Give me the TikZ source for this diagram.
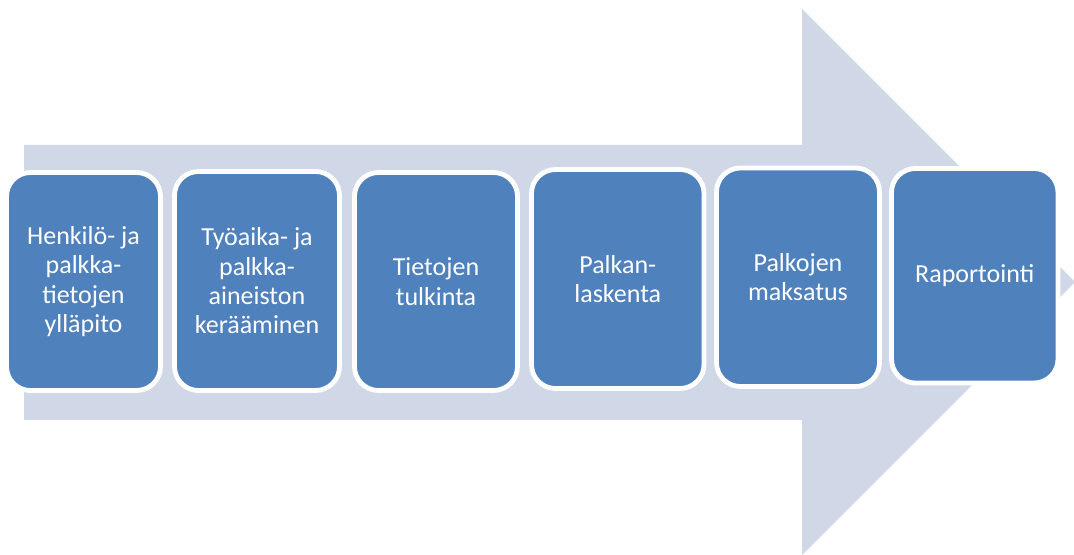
\documentclass[tikz,border=0pt]{standalone}
\usepackage{fontspec}
\setmainfont{Carlito}
\usepackage{tikz}
\usetikzlibrary{positioning}

\definecolor{arrowgray}{HTML}{D0D8E8}
\definecolor{boxblue}{HTML}{4F81BD}

\tikzset{
  stepbox/.style={draw=white, line width=3.6pt, fill=boxblue, rounded corners=18pt,
    text=white, align=center, inner sep=0pt,
    font=\fontsize{19.5}{22}\selectfont},
}

\begin{document}
\begin{tikzpicture}[x=0.75pt,y=-0.75pt]
\useasboundingbox (0,0) rectangle (1074,555);

% big arrow in the background
\fill[arrowgray] (24,145) -- (802,145) -- (802,9) -- (1075,282)
  -- (802,555) -- (802,420) -- (24,420) -- cycle;

\node[stepbox, minimum width=115.5pt, minimum height=163.5pt] (yllapito) at (83.5,281.5) {Henkilö- ja\\palkka-\\tietojen\\ylläpito};
\node[stepbox, minimum width=123.75pt, minimum height=164.25pt] (keraaminen) at (257,281) {Työaika- ja\\palkka-\\aineiston\\kerääminen};
\node[stepbox, minimum width=122.25pt, minimum height=163.5pt] (tulkinta) at (436,281.5) {Tietojen\\tulkinta};
\node[stepbox, minimum width=129.4pt, minimum height=164.25pt] (laskenta) at (617.75,279) {Palkan-\\laskenta};
\node[stepbox, minimum width=122.25pt, minimum height=163.9pt] (maksatus) at (798,277.25) {Palkojen\\maksatus};
\node[stepbox, minimum width=124.9pt, minimum height=160.9pt] (raportointi) at (974.75,275.75) {Raportointi};
\end{tikzpicture}
\end{document}
